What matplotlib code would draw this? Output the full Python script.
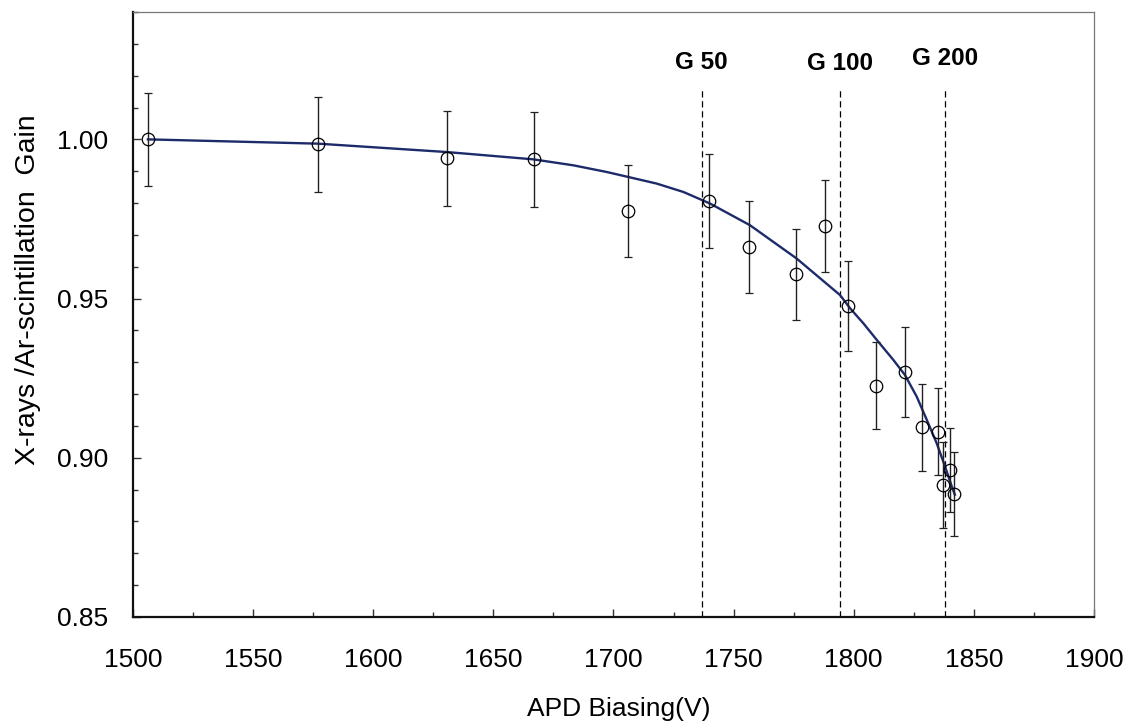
import matplotlib
matplotlib.use("Agg")
import matplotlib.pyplot as plt
from matplotlib.ticker import MultipleLocator, FixedLocator, FormatStrFormatter

plt.rcParams['font.family'] = ['Liberation Sans', 'DejaVu Sans']

# Measured points
bias_v = [1506.2, 1577.0, 1630.7, 1666.9, 1706.0, 1739.8, 1756.6, 1776.0, 1787.9,
          1797.7, 1809.4, 1821.2, 1828.2, 1835.0, 1839.9, 1837.3, 1841.6]
gain_ratio = [1.0000, 0.9984, 0.9940, 0.9937, 0.9774, 0.9806, 0.9662, 0.9576, 0.9728,
              0.9476, 0.9227, 0.9269, 0.9096, 0.9082, 0.8962, 0.8915, 0.8887]
gain_err = [0.0146, 0.0148, 0.0150, 0.0150, 0.0144, 0.0148, 0.0145, 0.0143, 0.0145,
            0.0142, 0.0137, 0.0141, 0.0137, 0.0137, 0.0133, 0.0135, 0.0132]

# Fitted curve
fit_v = [1506.2, 1577.1, 1630.6, 1666.6, 1683.3, 1697.2, 1706.2, 1718.0, 1729.1,
         1740.2, 1756.8, 1776.2, 1794.3, 1798.5, 1804.0, 1810.2, 1816.5, 1821.3,
         1826.2, 1830.4, 1834.5, 1838.0, 1840.8, 1842.1]
fit_g = [1.0000, 0.99865, 0.99602, 0.99373, 0.99185, 0.98975, 0.98818, 0.98611, 0.98348,
         0.97984, 0.97304, 0.96260, 0.95110, 0.94693, 0.94223, 0.93646, 0.93072, 0.92602,
         0.91922, 0.91191, 0.90461, 0.89727, 0.89100, 0.88840]

# Gain markers
marker_labels = ["G 50", "G 100", "G 200"]
marker_v = [1737.0, 1794.3, 1837.8]
marker_label_v = [1736.4, 1794.1, 1838.2]
marker_label_y = [1.0240, 1.0238, 1.0254]

x_ticks = [1500, 1550, 1600, 1650, 1700, 1750, 1800, 1850, 1900]
y_ticks = [0.85, 0.90, 0.95, 1.00]

fig = plt.figure(figsize=(11.27, 7.23), dpi=100)
ax = fig.add_axes([133/1127, 1-617/723, (1094-133)/1127, (617-12)/723])

ax.plot(fit_v, fit_g, color='#1d2b6b', lw=1.7, zorder=3, solid_joinstyle='round')
ax.errorbar(bias_v, gain_ratio, yerr=gain_err, fmt='o', mfc='none', mec='black',
            ms=9, mew=0.9, ecolor='#222222', elinewidth=1.0, capsize=2.8, capthick=1.0,
            zorder=4)

for lab, xv, lx, ly in zip(marker_labels, marker_v, marker_label_v, marker_label_y):
    ax.plot([xv, xv], [0.85, 1.0164], color='black', lw=0.9, ls=(0, (5, 3)), zorder=2)
    ax.text(lx, ly, lab, ha='center', va='center', fontsize=17.5, fontweight='bold')

ax.set_xlim(1500, 1900)
ax.set_ylim(0.85, 1.04)
ax.xaxis.set_major_locator(FixedLocator(x_ticks))
ax.xaxis.set_minor_locator(MultipleLocator(25))
ax.yaxis.set_major_locator(FixedLocator(y_ticks))
ax.yaxis.set_minor_locator(MultipleLocator(0.01))
ax.yaxis.set_major_formatter(FormatStrFormatter('%.2f'))

ax.tick_params(which='both', direction='in', top=False, right=False, width=1.0, colors='#333333',
               labelcolor='black')
ax.tick_params(which='major', length=6)
ax.tick_params(which='minor', length=3.6)
ax.tick_params(axis='x', which='major', labelsize=19, pad=22)
ax.tick_params(axis='y', which='major', labelsize=19, pad=18)

for s in ['left', 'bottom']:
    ax.spines[s].set_linewidth(1.6)
    ax.spines[s].set_color('#111111')
for s in ['top', 'right']:
    ax.spines[s].set_linewidth(0.9)
    ax.spines[s].set_color('#777777')

ax.set_xlabel('APD Biasing(V)', fontsize=19)
ax.set_ylabel('X-rays /Ar-scintillation  Gain', fontsize=20.5)
ax.xaxis.set_label_coords((619-133)/961, (617-697)/605)
ax.yaxis.set_label_coords((41-133)/961, (617-290)/605)

fig.savefig('out.png', dpi=100)
